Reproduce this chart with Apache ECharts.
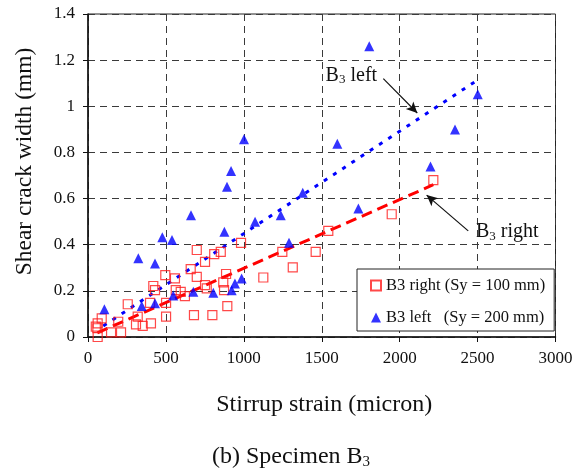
<!DOCTYPE html>
<html>
<head>
<meta charset="utf-8">
<script src="https://cdn.jsdelivr.net/npm/echarts@6/dist/echarts.min.js"></script>
<style>
  html, body { margin: 0; padding: 0; background: #fff; }
  #chart { width: 582px; height: 471px; }
</style>
</head>
<body>
<div id="chart"></div>
<script>
// Specimen B3: stirrup strain (micron) vs shear crack width (mm)
const rightStrain = [62, 60, 62, 50, 88, 148, 212, 194, 255, 308, 351, 319, 404, 398, 419, 430,
  496, 501, 501, 558, 563, 595, 622, 659, 698, 698, 680, 982, 852, 810, 751, 886, 868, 751,
  762, 873, 1125, 1247, 1314, 798, 894, 1542, 1949, 2216, 1461];
const rightWidth = [0.00, 0.038, 0.059, 0.045, 0.081, 0.02, 0.02, 0.066, 0.142, 0.055, 0.048, 0.088,
  0.059, 0.148, 0.221, 0.203, 0.268, 0.148, 0.088, 0.254, 0.203, 0.196, 0.177, 0.294, 0.261,
  0.377, 0.095, 0.408, 0.369, 0.359, 0.326, 0.273, 0.237, 0.225, 0.211, 0.203, 0.258, 0.369,
  0.302, 0.095, 0.134, 0.46, 0.532, 0.68, 0.369];

const leftStrain = [105, 323, 430, 477, 539, 345, 430, 547, 676, 804, 922, 943, 986, 661, 875,
  892, 918, 1001, 1072, 1237, 1290, 1378, 1600, 1735, 1805, 2198, 2355, 2501];
const leftWidth = [0.12, 0.341, 0.319, 0.432, 0.42, 0.134, 0.146, 0.18, 0.196, 0.192, 0.203, 0.232,
  0.254, 0.528, 0.456, 0.651, 0.719, 0.857, 0.499, 0.528, 0.408, 0.625, 0.838, 0.557, 1.26,
  0.739, 0.899, 1.052];

// linear trend line end points
const rightTrendX = [60, 2216];
const rightTrendY = [0.018, 0.66];
const leftTrendX = [98, 2480];
const leftTrendY = [0.048, 1.105];

// axis ticks
const xTicks = [0, 500, 1000, 1500, 2000, 2500, 3000];
const yTicks = [0, 0.2, 0.4, 0.6, 0.8, 1.0, 1.2, 1.4];

// annotation arrows [x0, y0, x1, y1] in data units and their label anchors
const leftArrow = [1895, 1.12, 2113, 0.971];
const rightArrow = [2440, 0.46, 2173, 0.615];
const leftLabelAt = [1690, 1.134];
const rightLabelAt = [2690, 0.455];

const serif = '"Liberation Serif", "Times New Roman", serif';
const zip = (xs, ys) => xs.map((x, i) => [x, ys[i]]);

const chart = echarts.init(document.getElementById('chart'), null, { renderer: 'canvas' });

const gridDash = { type: [7, 5], color: '#3a3a3a', width: 1 };

const option = {
  animation: false,
  backgroundColor: '#fff',
  title: {
    text: '(b) Specimen B{s|3}',
    left: 'center',
    top: 439,
    textStyle: {
      fontFamily: serif, fontSize: 24, fontWeight: 'normal', color: '#111',
      rich: { s: { fontFamily: serif, fontSize: 15, color: '#111', padding: [11, 0, 0, 0] } }
    }
  },
  grid: {
    left: 88, right: 26.5, top: 14, bottom: 134,
    show: true, borderColor: '#222', borderWidth: 1
  },
  legend: {
    orient: 'vertical',
    left: 357, top: 269,
    padding: [8, 9, 5, 13],
    itemGap: 15,
    itemWidth: 10, itemHeight: 10,
    backgroundColor: '#fff',
    borderColor: '#222', borderWidth: 1,
    textStyle: { fontFamily: serif, fontSize: 16.5, color: '#111' },
    data: ['B3 right (Sy = 100 mm)', 'B3 left   (Sy = 200 mm)']
  },
  xAxis: {
    type: 'value', min: 0, max: 3000, interval: 500,
    name: 'Stirrup strain (micron)',
    nameLocation: 'middle', nameGap: 56,
    nameTextStyle: { fontFamily: serif, fontSize: 24, color: '#111', padding: [0, 0, 0, 5] },
    axisLine: { show: true, onZero: false, lineStyle: { color: '#111', width: 1.5 } },
    axisTick: { show: true, inside: false, length: 5, lineStyle: { color: '#111' } },
    axisLabel: {
      fontFamily: serif, fontSize: 17, color: '#111', margin: 13,
      formatter: v => xTicks.includes(v) ? String(v) : ''
    },
    splitLine: { show: true, lineStyle: gridDash }
  },
  yAxis: {
    type: 'value', min: 0, max: 1.4, interval: 0.2,
    name: 'Shear crack width (mm)',
    nameLocation: 'middle', nameGap: 51,
    nameTextStyle: { fontFamily: serif, fontSize: 23.5, color: '#111', padding: [0, 0, 0, 28] },
    axisLine: { show: true, onZero: false, lineStyle: { color: '#111', width: 1.5 } },
    axisTick: { show: true, inside: false, length: 5, lineStyle: { color: '#111' } },
    axisLabel: {
      fontFamily: serif, fontSize: 17, color: '#111', margin: 13,
      formatter: v => {
        const t = yTicks.find(k => Math.abs(k - v) < 1e-9);
        return t === undefined ? '' : String(parseFloat(t.toFixed(1)));
      }
    },
    splitLine: { show: true, lineStyle: gridDash }
  },
  series: [
    {
      name: 'B3 right (Sy = 100 mm)',
      type: 'scatter',
      symbol: 'rect', symbolSize: 9,
      itemStyle: { color: 'rgba(255,255,255,0)', borderColor: '#ff1a1a', borderWidth: 1.2 },
      data: zip(rightStrain, rightWidth),
      z: 4
    },
    {
      name: 'B3 left   (Sy = 200 mm)',
      type: 'scatter',
      symbol: 'triangle', symbolSize: [10, 10],
      itemStyle: { color: '#0000ff' },
      data: zip(leftStrain, leftWidth),
      z: 5
    },
    {
      name: 'right trend',
      type: 'line',
      showSymbol: false, symbol: 'none',
      lineStyle: { color: '#ff0000', width: 3, type: [11, 6] },
      data: zip(rightTrendX, rightTrendY),
      z: 3,
      markLine: {
        silent: true,
        symbol: ['none', 'arrow'], symbolSize: [8, 11],
        lineStyle: { color: '#111', width: 1.2, type: 'solid' },
        label: { show: false },
        data: [
          [{ coord: [rightArrow[0], rightArrow[1]] }, { coord: [rightArrow[2], rightArrow[3]] }],
          [{ coord: [leftArrow[0], leftArrow[1]] }, { coord: [leftArrow[2], leftArrow[3]] }]
        ]
      }
    },
    {
      name: 'left trend',
      type: 'line',
      showSymbol: false, symbol: 'none',
      lineStyle: { color: '#0000ff', width: 3, type: [4, 7] },
      data: zip(leftTrendX, leftTrendY),
      z: 3
    }
  ]
};

chart.setOption(option);

// annotation labels placed at data positions
const labelStyle = {
  fontFamily: serif, fontSize: 20, fill: '#111',
  rich: {
    s: { fontFamily: serif, fontSize: 13, fill: '#111', padding: [9, 0, 0, 0] }
  }
};
const pL = chart.convertToPixel({ gridIndex: 0 }, leftLabelAt);
const pR = chart.convertToPixel({ gridIndex: 0 }, rightLabelAt);
chart.setOption({
  graphic: [
    { type: 'text', x: pL[0], y: pL[1], z: 10,
      style: Object.assign({ text: 'B{s|3} left', align: 'center', verticalAlign: 'middle' }, labelStyle) },
    { type: 'text', x: pR[0], y: pR[1], z: 10,
      style: Object.assign({ text: 'B{s|3} right', align: 'center', verticalAlign: 'middle' }, labelStyle) }
  ]
});
</script>
</body>
</html>
